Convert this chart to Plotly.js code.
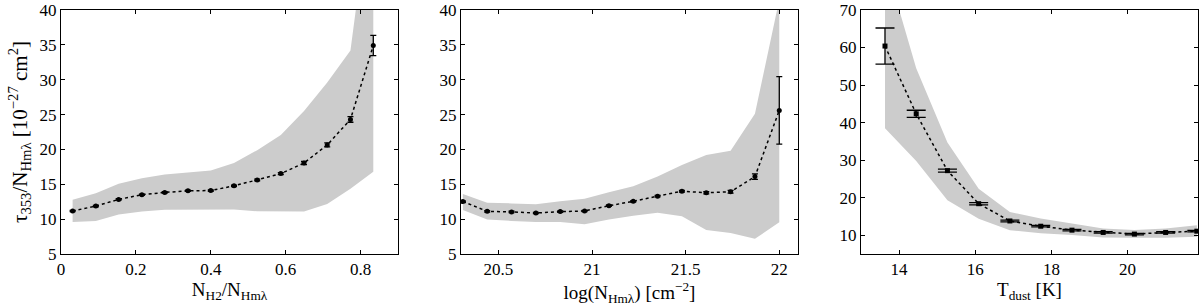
<!DOCTYPE html>
<html>
<head>
<meta charset="utf-8">
<script src="https://cdn.plot.ly/plotly-3.0.1.min.js"></script>
<style>html,body{margin:0;padding:0;background:#fff;} #chart{width:1200px;height:308px;}</style>
</head>
<body>
<div id="chart"></div>
<script>
// Panel 1: vs N_H2/N_Hmλ
const fracX = [0.031, 0.093, 0.154, 0.216, 0.277, 0.339, 0.400, 0.462, 0.524, 0.587, 0.649, 0.711, 0.773, 0.834];
const fracY = [11.17, 11.88, 12.83, 13.5, 13.83, 14.07, 14.1, 14.78, 15.63, 16.53, 18.05, 20.65, 24.3, 34.9];
const fracErr = [0.1, 0.1, 0.1, 0.1, 0.1, 0.1, 0.1, 0.1, 0.12, 0.15, 0.22, 0.28, 0.4, 1.45];
const fracUpper = [12.78, 13.73, 15.06, 15.86, 16.39, 16.71, 16.96, 18.05, 19.9, 22.08, 25.5, 29.6, 34.2, 59.0];
const fracLower = [9.6, 9.72, 10.65, 11.1, 11.36, 11.4, 11.36, 11.4, 11.12, 11.08, 11.08, 12.18, 14.35, 16.8];

// Panel 2: vs log(N_Hmλ)
const logX = [20.31, 20.44, 20.57, 20.70, 20.83, 20.96, 21.09, 21.22, 21.35, 21.48, 21.61, 21.74, 21.87, 22.0];
const logY = [12.52, 11.12, 11.03, 10.88, 11.08, 11.17, 11.93, 12.55, 13.3, 14.01, 13.78, 13.93, 16.1, 25.6];
const logErr = [0.1, 0.1, 0.1, 0.1, 0.1, 0.1, 0.1, 0.1, 0.1, 0.12, 0.15, 0.2, 0.4, 4.85];
const logUpper = [13.6, 12.36, 12.26, 12.12, 12.55, 12.93, 13.87, 14.72, 16.1, 17.77, 19.19, 19.8, 25.1, 41.5];
const logLower = [11.3, 9.94, 9.75, 9.6, 9.6, 9.27, 9.94, 10.5, 10.9, 10.41, 8.45, 8.0, 7.18, 9.55];

// Panel 3: vs T_dust
const tX = [13.63, 14.45, 15.27, 16.09, 16.91, 17.72, 18.54, 19.36, 20.18, 21.0, 21.82];
const tY = [60.4, 42.35, 27.2, 18.4, 13.8, 12.4, 11.35, 10.74, 10.3, 10.74, 11.08];
const tErr = [4.8, 0.95, 0.4, 0.3, 0.25, 0.2, 0.2, 0.2, 0.2, 0.2, 0.2];
const tUpper = [83.0, 54.5, 34.7, 22.4, 16.2, 14.43, 13.1, 11.8, 11.4, 11.8, 12.67];
const tLower = [38.5, 29.8, 19.3, 14.4, 11.35, 10.5, 10.04, 9.4, 9.3, 9.3, 9.6];

// Axis text
const yTitle = 'τ<sub>353</sub>/N<sub>Hmλ</sub> [10<sup>−27</sup> cm<sup>2</sup>]';
const xTitles = ['N<sub>H2</sub>/N<sub>Hmλ</sub>', 'log(N<sub>Hmλ</sub>) [cm<sup>−2</sup>]', 'T<sub>dust</sub> [K]'];

const FONT = 'Liberation Serif, Times New Roman, serif';
const BAND = '#cccccc';

function panel(idx, x, y, err, up, lo, capW) {
  const s = idx === 1 ? '' : String(idx);
  const xa = 'x' + s, ya = 'y' + s;
  return [
    {x: x, y: lo, xaxis: xa, yaxis: ya, mode: 'lines', line: {width: 0, color: BAND}, hoverinfo: 'skip', showlegend: false},
    {x: x, y: up, xaxis: xa, yaxis: ya, mode: 'lines', line: {width: 0, color: BAND}, fill: 'tonexty', fillcolor: BAND, hoverinfo: 'skip', showlegend: false},
    {x: x, y: y, xaxis: xa, yaxis: ya, mode: 'lines+markers', showlegend: false,
     line: {color: '#000', width: 1.5, dash: 'dot'},
     marker: {color: '#000', size: 5, symbol: idx === 3 ? 'square' : 'circle'},
     error_y: {type: 'data', array: err, visible: true, color: '#000', thickness: 1.3, width: capW}}
  ];
}

const data = [].concat(
  panel(1, fracX, fracY, fracErr, fracUpper, fracLower, 3),
  panel(2, logX, logY, logErr, logUpper, logLower, 3),
  panel(3, tX, tY, tErr, tUpper, tLower, 9.5)
);

const W = 1200, H = 308;
const yDom = [1 - 254 / H, 1 - 10 / H];
function ax(extra) {
  return Object.assign({
    showline: true, mirror: 'ticks', linecolor: '#000', linewidth: 1,
    ticks: 'inside', ticklen: 4, tickcolor: '#000', tickwidth: 1,
    showgrid: false, zeroline: false, automargin: false,
    ticklabeloverflow: 'allow',
    tickfont: {family: FONT, size: 17, color: '#000'}
  }, extra);
}
const xTitleFont = {family: FONT, size: 19, color: '#000'};
const yTitleFont = {family: FONT, size: 21, color: '#000'};

const layout = {
  width: W, height: H,
  margin: {l: 0, r: 0, t: 0, b: 0},
  paper_bgcolor: '#fff', plot_bgcolor: '#fff',
  showlegend: false,
  xaxis: ax({domain: [61 / W, 398 / W], range: [0, 0.9], tick0: 0, dtick: 0.2, anchor: 'y',
    title: {text: xTitles[0], font: xTitleFont, standoff: 4}}),
  yaxis: ax({domain: yDom, range: [5, 40], tick0: 5, dtick: 5, anchor: 'x',
    title: {text: yTitle, font: yTitleFont, standoff: 6}}),
  xaxis2: ax({domain: [461 / W, 798 / W], range: [20.3, 22.1], tick0: 20.5, dtick: 0.5, anchor: 'y2',
    title: {text: xTitles[1], font: xTitleFont, standoff: 4}}),
  yaxis2: ax({domain: yDom, range: [5, 40], tick0: 5, dtick: 5, anchor: 'x2'}),
  xaxis3: ax({domain: [861 / W, 1198 / W], range: [13, 21.85], tick0: 14, dtick: 2, anchor: 'y3',
    title: {text: xTitles[2], font: xTitleFont, standoff: 4}}),
  yaxis3: ax({domain: yDom, range: [5, 70], tick0: 10, dtick: 10, anchor: 'x3'})
};

Plotly.newPlot('chart', data, layout, {staticPlot: true});
</script>
</body>
</html>
